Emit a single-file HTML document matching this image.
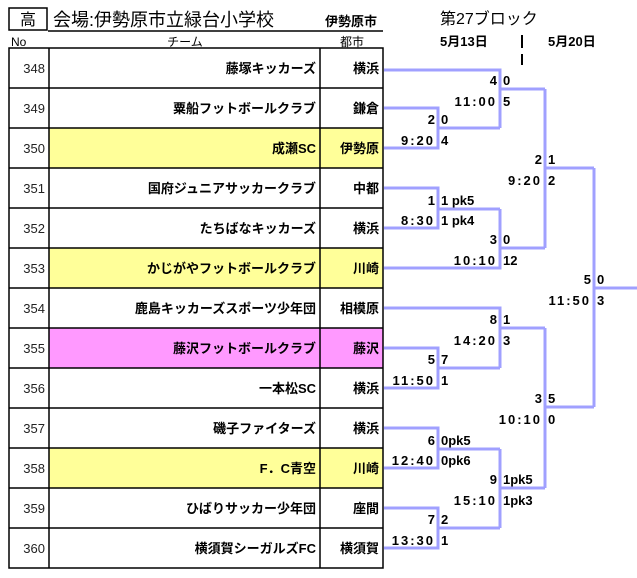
<!DOCTYPE html>
<html><head><meta charset="utf-8"><style>
body{margin:0;background:#fff;}
svg text{font-family:"Liberation Sans","Noto Sans CJK JP",sans-serif;}
.t{font-size:13px;font-weight:bold;text-anchor:end;}
.n{font-size:13px;text-anchor:end;fill:#222;}
.s{font-size:13px;font-weight:bold;}
.sl{font-size:13px;font-weight:bold;text-anchor:end;}
.tm{letter-spacing:2px;}
</style></head><body>
<svg width="637" height="573" xmlns="http://www.w3.org/2000/svg">
<rect x="9" y="8" width="38" height="22" fill="#fff" stroke="#000" stroke-width="1.5"/>
<text x="28" y="25" font-size="16" text-anchor="middle">高</text>
<text x="53" y="26" font-size="18">会場:伊勢原市立緑台小学校</text>
<text x="325" y="26" font-size="13" font-weight="bold">伊勢原市</text>
<line x1="48" y1="31" x2="383" y2="31" stroke="#000" stroke-width="1.5"/>
<text x="440" y="24" font-size="16">第27ブロック</text>
<text x="11" y="46" font-size="12">No</text>
<text x="185" y="46" font-size="12" text-anchor="middle">チーム</text>
<text x="352" y="46" font-size="12" text-anchor="middle">都市</text>
<text x="440" y="46" font-size="13" font-weight="bold">5月13日</text>
<text x="548" y="46" font-size="13" font-weight="bold">5月20日</text>
<line x1="522" y1="35" x2="522" y2="48" stroke="#000" stroke-width="2"/>
<line x1="522" y1="54" x2="522" y2="65" stroke="#000" stroke-width="2"/>
<rect x="49" y="128" width="334" height="40" fill="#ffff99"/>
<rect x="49" y="248" width="334" height="40" fill="#ffff99"/>
<rect x="49" y="328" width="334" height="40" fill="#ff99ff"/>
<rect x="49" y="448" width="334" height="40" fill="#ffff99"/>
<g stroke="#000" stroke-width="1.5" fill="none">
<rect x="9" y="48" width="374" height="520"/>
<line x1="49" y1="48" x2="49" y2="568"/>
<line x1="320" y1="48" x2="320" y2="568"/>
<line x1="9" y1="88" x2="383" y2="88"/><line x1="9" y1="128" x2="383" y2="128"/>
<line x1="9" y1="168" x2="383" y2="168"/><line x1="9" y1="208" x2="383" y2="208"/>
<line x1="9" y1="248" x2="383" y2="248"/><line x1="9" y1="288" x2="383" y2="288"/>
<line x1="9" y1="328" x2="383" y2="328"/><line x1="9" y1="368" x2="383" y2="368"/>
<line x1="9" y1="408" x2="383" y2="408"/><line x1="9" y1="448" x2="383" y2="448"/>
<line x1="9" y1="488" x2="383" y2="488"/><line x1="9" y1="528" x2="383" y2="528"/>
</g>
<g>
<text class="n" x="45" y="73">348</text><text class="t" x="316" y="73">藤塚キッカーズ</text><text class="t" x="379" y="73">横浜</text>
<text class="n" x="45" y="113">349</text><text class="t" x="316" y="113">粟船フットボールクラブ</text><text class="t" x="379" y="113">鎌倉</text>
<text class="n" x="45" y="153">350</text><text class="t" x="316" y="153">成瀬SC</text><text class="t" x="379" y="153">伊勢原</text>
<text class="n" x="45" y="193">351</text><text class="t" x="316" y="193">国府ジュニアサッカークラブ</text><text class="t" x="379" y="193">中都</text>
<text class="n" x="45" y="233">352</text><text class="t" x="316" y="233">たちばなキッカーズ</text><text class="t" x="379" y="233">横浜</text>
<text class="n" x="45" y="273">353</text><text class="t" x="316" y="273">かじがやフットボールクラブ</text><text class="t" x="379" y="273">川崎</text>
<text class="n" x="45" y="313">354</text><text class="t" x="316" y="313">鹿島キッカーズスポーツ少年団</text><text class="t" x="379" y="313">相模原</text>
<text class="n" x="45" y="353">355</text><text class="t" x="316" y="353">藤沢フットボールクラブ</text><text class="t" x="379" y="353">藤沢</text>
<text class="n" x="45" y="393">356</text><text class="t" x="316" y="393">一本松SC</text><text class="t" x="379" y="393">横浜</text>
<text class="n" x="45" y="433">357</text><text class="t" x="316" y="433">磯子ファイターズ</text><text class="t" x="379" y="433">横浜</text>
<text class="n" x="45" y="473">358</text><text class="t" x="316" y="473">F．C青空</text><text class="t" x="379" y="473">川崎</text>
<text class="n" x="45" y="513">359</text><text class="t" x="316" y="513">ひばりサッカー少年団</text><text class="t" x="379" y="513">座間</text>
<text class="n" x="45" y="553">360</text><text class="t" x="316" y="553">横須賀シーガルズFC</text><text class="t" x="379" y="553">横須賀</text>
</g>
<g stroke="#a0a0ff" stroke-width="3" fill="none">
<polyline points="384,108 438,108 438,148 384,148"/>
<line x1="438" y1="128" x2="500" y2="128"/>
<polyline points="384,70 500,70 500,128"/>
<line x1="500" y1="89" x2="545" y2="89"/>
<polyline points="384,188 438,188 438,228 384,228"/>
<line x1="438" y1="209" x2="500" y2="209"/>
<polyline points="500,209 500,268 384,268"/>
<line x1="500" y1="248" x2="545" y2="248"/>
<line x1="545" y1="89" x2="545" y2="248"/>
<line x1="545" y1="168" x2="594" y2="168"/>
<polyline points="384,308 500,308 500,368"/>
<polyline points="384,348 438,348 438,388 384,388"/>
<line x1="438" y1="368" x2="500" y2="368"/>
<line x1="500" y1="328" x2="545" y2="328"/>
<polyline points="384,428 438,428 438,468 384,468"/>
<polyline points="384,508 438,508 438,548 384,548"/>
<line x1="438" y1="449" x2="500" y2="449"/>
<line x1="438" y1="528" x2="500" y2="528"/>
<line x1="500" y1="449" x2="500" y2="528"/>
<line x1="500" y1="488" x2="545" y2="488"/>
<line x1="545" y1="328" x2="545" y2="488"/>
<line x1="545" y1="407" x2="594" y2="407"/>
<line x1="594" y1="168" x2="594" y2="407"/>
<line x1="594" y1="288" x2="637" y2="288"/>
</g>
<g>
<text class="sl" x="435" y="124">2</text><text class="s" x="441" y="124">0</text><text class="sl tm" x="435" y="145">9:20</text><text class="s" x="441" y="145">4</text>
<text class="sl" x="497" y="85">4</text><text class="s" x="503" y="85">0</text><text class="sl tm" x="497" y="106">11:00</text><text class="s" x="503" y="106">5</text>
<text class="sl" x="435" y="205">1</text><text class="s" x="441" y="205">1 pk5</text><text class="sl tm" x="435" y="225">8:30</text><text class="s" x="441" y="225">1 pk4</text>
<text class="sl" x="497" y="244">3</text><text class="s" x="503" y="244">0</text><text class="sl tm" x="497" y="265">10:10</text><text class="s" x="503" y="265">12</text>
<text class="sl" x="542" y="164">2</text><text class="s" x="548" y="164">1</text><text class="sl tm" x="542" y="185">9:20</text><text class="s" x="548" y="185">2</text>
<text class="sl" x="435" y="364">5</text><text class="s" x="441" y="364">7</text><text class="sl tm" x="435" y="385">11:50</text><text class="s" x="441" y="385">1</text>
<text class="sl" x="497" y="324">8</text><text class="s" x="503" y="324">1</text><text class="sl tm" x="497" y="345">14:20</text><text class="s" x="503" y="345">3</text>
<text class="sl" x="435" y="445">6</text><text class="s" x="441" y="445">0pk5</text><text class="sl tm" x="435" y="465">12:40</text><text class="s" x="441" y="465">0pk6</text>
<text class="sl" x="435" y="524">7</text><text class="s" x="441" y="524">2</text><text class="sl tm" x="435" y="545">13:30</text><text class="s" x="441" y="545">1</text>
<text class="sl" x="497" y="484">9</text><text class="s" x="503" y="484">1pk5</text><text class="sl tm" x="497" y="505">15:10</text><text class="s" x="503" y="505">1pk3</text>
<text class="sl" x="542" y="403">3</text><text class="s" x="548" y="403">5</text><text class="sl tm" x="542" y="424">10:10</text><text class="s" x="548" y="424">0</text>
<text class="sl" x="591" y="284">5</text><text class="s" x="597" y="284">0</text><text class="sl tm" x="591" y="305">11:50</text><text class="s" x="597" y="305">3</text>
</g>
</svg>
</body></html>
